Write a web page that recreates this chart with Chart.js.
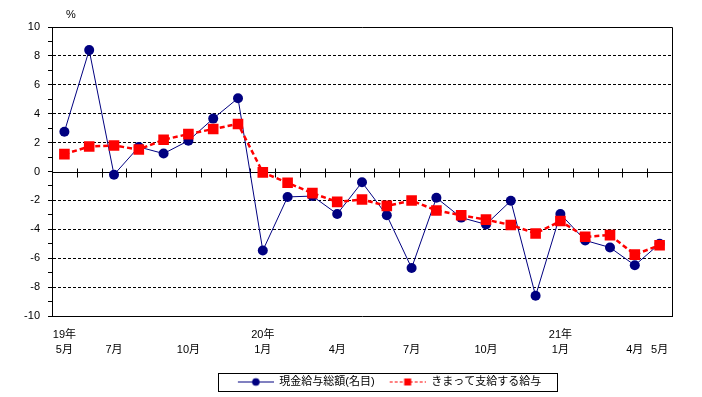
<!DOCTYPE html>
<html lang="ja">
<head>
<meta charset="UTF-8">
<title>現金給与総額</title>
<script src="https://cdn.jsdelivr.net/npm/chart.js"></script>
<style>
  body { margin: 0; background: #fff; }
  canvas { display: block; }
</style>
</head>
<body>
<canvas id="grafica" width="702" height="397"></canvas>
<script>
  // meses: 19年5月 .. 21年5月
  const months = [
    ['19年', '5月'], '', ['', '7月'], '', '', ['', '10月'], '', '',
    ['20年', '1月'], '', '', ['', '4月'], '', '', ['', '7月'], '', '', ['', '10月'], '', '',
    ['21年', '1月'], '', '', ['', '4月'], ['', '5月']
  ];
  const genkin = [2.75, 8.4, -0.22, 1.7, 1.24, 2.13, 3.66, 5.07, -5.47, -1.76, -1.7, -2.94,
    -0.75, -3.03, -6.68, -1.82, -3.19, -3.66, -2.03, -8.6, -2.94, -4.77, -5.26, -6.49, -5.0];
  const kimatte = [1.2, 1.73, 1.8, 1.52, 2.2, 2.59, 2.94, 3.29, -0.06, -0.78, -1.5, -2.1,
    -1.94, -2.38, -2.01, -2.7, -3.03, -3.33, -3.7, -4.29, -3.43, -4.52, -4.4, -5.75, -5.1];
  const seriesNames = ['現金給与総額(名目)', 'きまって支給する給与'];

  Chart.defaults.font.family = "'Liberation Sans', 'Noto Sans CJK JP', sans-serif";
  Chart.defaults.font.size = 11;
  Chart.defaults.color = '#000';

  // muestra de leyenda: linea + marcador
  function legendSample(color, dashed, square) {
    const c = document.createElement('canvas');
    c.width = 45; c.height = 12;
    const g = c.getContext('2d');
    g.strokeStyle = color;
    g.lineWidth = dashed ? 1.2 : 1;
    if (dashed) g.setLineDash([3, 2]);
    g.beginPath(); g.moveTo(9, 6.5); g.lineTo(45, 6.5); g.stroke();
    g.fillStyle = color;
    if (square) g.fillRect(23.5, 3, 7, 7);
    else { g.beginPath(); g.arc(27, 6.5, 3.8, 0, Math.PI * 2); g.fill(); }
    return c;
  }
  const samples = [legendSample('#000080', false, false), legendSample('#ff0000', true, true)];

  const extras = {
    id: 'extras',
    afterLayout(chart) {
      chart.legend.left += 49;
      chart.legend.right += 49;
    },
    beforeDatasetsDraw(chart) {
      const ctx = chart.ctx, xs = chart.scales.x, ys = chart.scales.y, a = chart.chartArea;
      const y0 = Math.round(ys.getPixelForValue(0)) + 0.5;
      ctx.save();
      ctx.strokeStyle = '#000';
      ctx.lineWidth = 1;
      ctx.beginPath();
      ctx.moveTo(a.left, y0); ctx.lineTo(a.right, y0);
      for (let i = 1; i < months.length; i++) {
        const x = Math.round((xs.getPixelForValue(i - 1) + xs.getPixelForValue(i)) / 2) + 0.5;
        ctx.moveTo(x, y0 - 4); ctx.lineTo(x, y0 + 5);
      }
      ctx.stroke();
      ctx.restore();
    },
    afterDraw(chart) {
      const ctx = chart.ctx, a = chart.chartArea;
      ctx.save();
      ctx.strokeStyle = '#000';
      ctx.lineWidth = 1;
      ctx.beginPath();
      ctx.moveTo(a.left, Math.round(a.top) + 0.5);
      ctx.lineTo(Math.round(a.right) + 0.5, Math.round(a.top) + 0.5);
      ctx.lineTo(Math.round(a.right) + 0.5, a.bottom);
      ctx.stroke();
      ctx.fillStyle = '#000';
      ctx.font = "11px 'Liberation Sans', 'Noto Sans CJK JP', sans-serif";
      ctx.textAlign = 'center';
      ctx.textBaseline = 'middle';
      ctx.fillText('%', a.left + 19, a.top - 12);
      // marco de la leyenda
      const hb = chart.legend.legendHitBoxes;
      if (hb && hb.length) {
        const first = hb[0], last = hb[hb.length - 1];
        const cy = first.top + first.height / 2;
        const l = Math.round(first.left - 11) + 0.5;
        const r = Math.round(last.left + last.width + 16) + 0.5;
        ctx.strokeRect(l, Math.round(cy - 9) + 0.5, r - l, 18);
      }
      ctx.restore();
    }
  };

  new Chart(document.getElementById('grafica'), {
    type: 'line',
    data: {
      labels: months,
      datasets: [
        {
          label: seriesNames[0],
          data: genkin,
          borderColor: '#000080',
          backgroundColor: '#000080',
          borderWidth: 1,
          pointStyle: 'circle',
          pointRadius: 5,
          pointBorderWidth: 0,
          tension: 0,
          order: 1
        },
        {
          label: seriesNames[1],
          data: kimatte,
          borderColor: '#ff0000',
          backgroundColor: '#ff0000',
          borderWidth: 2.5,
          borderDash: [5, 3],
          pointStyle: 'rect',
          pointRadius: 7.5,
          pointBorderWidth: 0,
          tension: 0,
          order: 0
        }
      ]
    },
    options: {
      responsive: false,
      animation: false,
      layout: { padding: { left: 0, right: 30, top: 27, bottom: 0 } },
      plugins: {
        tooltip: { enabled: false },
        legend: {
          position: 'bottom',
          labels: {
            usePointStyle: true,
            pointStyleWidth: 45,
            padding: 6,
            font: { size: 11 },
            sort: (a, b) => a.datasetIndex - b.datasetIndex,
            generateLabels: chart => chart.data.datasets.map((ds, i) => ({
              text: ds.label,
              datasetIndex: i,
              pointStyle: samples[i],
              fillStyle: 'transparent',
              strokeStyle: 'transparent',
              lineWidth: 0,
              fontColor: '#000',
              hidden: false
            }))
          }
        }
      },
      scales: {
        x: {
          offset: true,
          grid: { display: false },
          border: { display: true, color: '#000', width: 1 },
          ticks: {
            autoSkip: false,
            maxRotation: 0,
            padding: 4,
            font: { size: 11, lineHeight: 1.35 }
          },
          afterFit: scale => { scale.height = 54; }
        },
        y: {
          min: -10,
          max: 10,
          border: { display: true, color: '#000', width: 1, dash: [3, 2] },
          grid: {
            color: c => {
              const v = c.tick ? c.tick.value : 0;
              return (v % 2 !== 0 || v === 0 || Math.abs(v) === 10) ? 'rgba(0,0,0,0)' : '#000';
            },
            tickColor: '#000',
            tickLength: 4,
            lineWidth: 1
          },
          ticks: {
            stepSize: 1,
            autoSkip: false,
            padding: 8,
            callback: v => (v % 2 === 0 ? v : '')
          },
          afterFit: scale => { scale.width = 52; }
        }
      }
    },
    plugins: [extras]
  });
</script>
</body>
</html>
